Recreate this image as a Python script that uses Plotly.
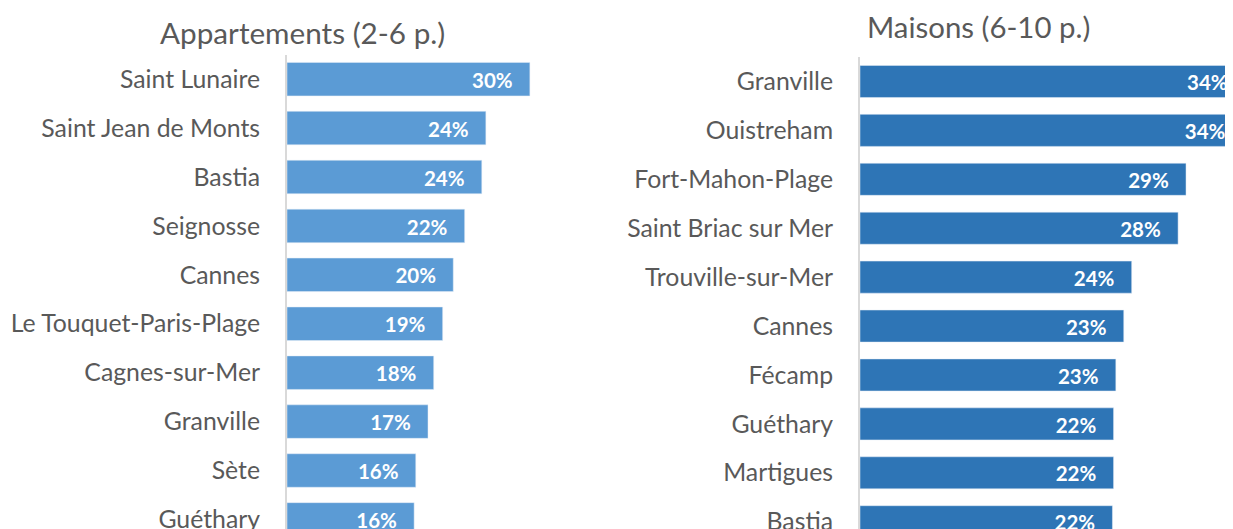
import plotly.graph_objects as go

# Data
cats_apt = ["Saint Lunaire", "Saint Jean de Monts", "Bastia", "Seignosse", "Cannes",
            "Le Touquet-Paris-Plage", "Cagnes-sur-Mer", "Granville", "Sète", "Guéthary"]
vals_apt = [29.8, 24.4, 23.9, 21.8, 20.4, 19.1, 18.0, 17.3, 15.8, 15.6]

cats_mai = ["Granville", "Ouistreham", "Fort-Mahon-Plage", "Saint Briac sur Mer", "Trouville-sur-Mer",
            "Cannes", "Fécamp", "Guéthary", "Martigues", "Bastia"]
vals_mai = [34.0, 33.8, 28.8, 28.1, 24.0, 23.3, 22.6, 22.4, 22.4, 22.3]

title_apt = "Appartements (2-6 p.)"
title_mai = "Maisons (6-10 p.)"

# page body adds an 8px margin; the photographed page is ~1% compressed vertically
OFF = 8
SY = 0.99
W, H = 1233, 527
FONT = "Lato"
GREY = "#595959"
C_APT = "#5B9BD5"
C_MAI = "#2E75B6"

fig = go.Figure()

fig.add_trace(go.Bar(x=vals_apt, y=cats_apt, orientation="h", marker_color=C_APT,
                     width=0.685, xaxis="x", yaxis="y", hoverinfo="skip"))
fig.add_trace(go.Scatter(x=vals_apt, y=cats_apt, mode="markers+text",
                         text=[f"{v:.0f}%" for v in vals_apt], textposition="middle left",
                         marker=dict(size=26, opacity=0),
                         textfont=dict(family=FONT, size=20.5, color="white", weight="bold"),
                         xaxis="x", yaxis="y3", hoverinfo="skip"))

fig.add_trace(go.Bar(x=vals_mai, y=cats_mai, orientation="h", marker_color=C_MAI,
                     width=0.655, xaxis="x2", yaxis="y2", hoverinfo="skip"))
fig.add_trace(go.Scatter(x=vals_mai, y=cats_mai, mode="markers+text",
                         text=[f"{v:.0f}%" for v in vals_mai], textposition="middle left",
                         marker=dict(size=26, opacity=0),
                         textfont=dict(family=FONT, size=20.5, color="white", weight="bold"),
                         xaxis="x2", yaxis="y4", hoverinfo="skip"))

# geometry in reference (window) pixels
l_left, l_right = 287, 560
r_left = 860
scale_l = 8.15
scale_r = 11.32
top_l, pitch_l = 54.5, 48.8
top_r, pitch_r = 56.8, 48.8
LBL_DY = 3.5


def fx(v):
    return v - OFF


def fy(v):
    return v / SY - OFF


def cat_axis(cats, top, pitch, anchor, shift=0.0, visible=True):
    span_px = H - fy(top)
    p = pitch / SY
    d = dict(domain=[0, span_px / H], type="category",
             categoryorder="array", categoryarray=cats,
             range=[span_px / p - 0.5 - shift, -0.5 - shift],
             showgrid=False, anchor=anchor, fixedrange=True)
    if visible:
        d.update(showline=True, linecolor="#D9D9D9", linewidth=2,
                 ticks="", ticklabelstandoff=20,
                 tickfont=dict(family=FONT, size=24.8, color=GREY))
    else:
        d.update(visible=False)
    return d


fig.update_layout(
    width=W, height=H,
    margin=dict(l=0, r=0, t=0, b=0),
    paper_bgcolor="white", plot_bgcolor="white",
    showlegend=False,
    barmode="overlay",
    font=dict(family=FONT, color=GREY),
    xaxis=dict(domain=[fx(l_left) / W, fx(l_right) / W], range=[0, (l_right - l_left) / scale_l],
               visible=False, fixedrange=True),
    yaxis=cat_axis(cats_apt, top_l, pitch_l, "x"),
    yaxis3=dict(cat_axis(cats_apt, top_l, pitch_l, "x", LBL_DY / pitch_l, False), overlaying="y"),
    xaxis2=dict(domain=[fx(r_left) / W, 1], range=[0, (W + OFF - r_left) / scale_r],
                visible=False, fixedrange=True, anchor="y2"),
    yaxis2=cat_axis(cats_mai, top_r, pitch_r, "x2"),
    yaxis4=dict(cat_axis(cats_mai, top_r, pitch_r, "x2", LBL_DY / pitch_r, False), overlaying="y2"),
    annotations=[
        dict(text=title_apt, x=fx(302) / W, y=1 - fy(32) / H, xref="paper", yref="paper",
             xanchor="center", yanchor="middle", showarrow=False,
             font=dict(family=FONT, size=29.7, color=GREY)),
        dict(text=title_mai, x=fx(978) / W, y=1 - fy(26) / H, xref="paper", yref="paper",
             xanchor="center", yanchor="middle", showarrow=False,
             font=dict(family=FONT, size=29.4, color=GREY)),
    ],
)

fig.write_html("out.html")
